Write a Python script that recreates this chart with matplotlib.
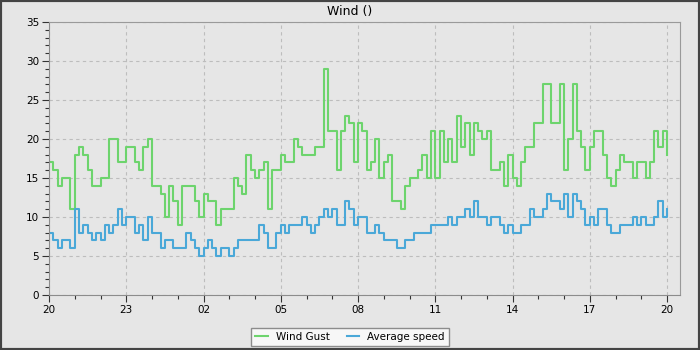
import numpy as np
import matplotlib
matplotlib.use("Agg")
import matplotlib.pyplot as plt
from matplotlib.patches import Rectangle

# ---------------------------------------------- data (4-hour samples) ----------------------------------------------
step_hours = 4
tick_labels = ["20", "23", "02", "05", "08", "11", "14", "17", "20"]

wind_gust = [17, 16, 14, 15, 15, 11, 18, 19, 18, 16, 14, 14, 15, 15, 20, 20, 17, 17, 19, 19,
             17, 16, 19, 20, 14, 14, 13, 10, 14, 12, 9, 14, 14, 14, 12, 10, 13, 12, 12, 9,
             11, 11, 11, 15, 14, 13, 18, 16, 15, 16, 17, 11, 16, 16, 18, 17, 17, 20, 19, 18,
             18, 18, 19, 19, 29, 21, 21, 16, 21, 23, 22, 17, 22, 21, 16, 17, 20, 15, 17, 18,
             12, 12, 11, 14, 15, 15, 16, 18, 15, 21, 15, 21, 17, 20, 17, 23, 19, 22, 18, 22,
             21, 20, 21, 16, 16, 17, 14, 18, 15, 14, 17, 19, 19, 22, 22, 27, 27, 22, 22, 27,
             16, 20, 27, 21, 19, 16, 19, 21, 21, 18, 15, 14, 16, 18, 17, 17, 15, 17, 17, 15,
             17, 21, 19, 21, 18]

average_speed = [8, 7, 6, 7, 7, 6, 11, 8, 9, 8, 7, 8, 7, 9, 8, 9, 11, 9, 10, 10,
                 8, 9, 7, 10, 8, 8, 6, 7, 7, 6, 6, 6, 8, 7, 6, 5, 6, 7, 6, 5,
                 6, 6, 5, 6, 7, 7, 7, 7, 7, 9, 8, 6, 6, 8, 9, 8, 9, 9, 9, 10,
                 9, 8, 9, 10, 11, 10, 11, 9, 9, 12, 11, 9, 10, 10, 8, 8, 9, 8, 7, 7,
                 7, 6, 6, 7, 7, 8, 8, 8, 8, 9, 9, 9, 9, 10, 9, 10, 10, 11, 10, 12,
                 10, 10, 9, 10, 10, 9, 8, 9, 8, 8, 9, 9, 11, 10, 10, 11, 13, 12, 12, 11,
                 13, 10, 13, 12, 11, 9, 10, 9, 11, 11, 9, 8, 8, 9, 9, 9, 10, 9, 10, 9,
                 9, 10, 12, 10, 11]

hours = np.arange(len(wind_gust)) * step_hours

# ---------------------------------------------------- figure ----------------------------------------------------
bg = "#e6e6e6"
fig = plt.figure(figsize=(7, 3.5), dpi=100, facecolor=bg)
ax = fig.add_axes([49 / 700, 55 / 350, 631 / 700, 273 / 350], facecolor=bg)

ax.plot(hours, wind_gust, drawstyle="steps-post", color="#6dd46d", lw=1.5, label="Wind Gust")
ax.plot(hours, average_speed, drawstyle="steps-post", color="#4aa8d8", lw=1.5, label="Average speed")

ax.set_xlim(0, 72 * 631 / 77.25)
ax.set_ylim(0, 35)
ax.set_xticks(np.arange(len(tick_labels)) * 72)
ax.set_xticklabels(tick_labels)
ax.set_xticks(np.arange(0, 8 * 72 + 1, 24), minor=True)
ax.set_yticks(np.arange(0, 36, 5))
ax.set_yticks(np.arange(0, 36, 1), minor=True)
ax.tick_params(which="major", length=5, width=0.8, color="#333333", labelsize=7.5, pad=2)
ax.tick_params(which="minor", length=3, width=0.8, color="#333333")

ax.grid(True, which="major", color="#bdbdbd", linestyle=(0, (3, 3)), linewidth=0.8)
for s in ["left", "bottom"]:
    ax.spines[s].set_color("#8c8c8c")
for s in ["top", "right"]:
    ax.spines[s].set_color("#9a9a9a")

fig.text(0.5, 1 - 11 / 350, "Wind ()", ha="center", va="center", fontsize=9)

leg = fig.legend(loc="center", bbox_to_anchor=(0.5, 1 - 337 / 350), ncol=2, fontsize=7.5,
                 frameon=True, fancybox=False, handlelength=1.2, columnspacing=1.6,
                 borderpad=0.4, handletextpad=0.8)
leg.get_frame().set_facecolor("#f7f7f7")
leg.get_frame().set_edgecolor("#8c8c8c")
leg.get_frame().set_alpha(1)

# dark border round the figure
fig.patches.append(Rectangle((0, 0), 1, 1, transform=fig.transFigure, fill=False,
                             edgecolor="#444444", linewidth=3))

fig.savefig("out.png", dpi=100, facecolor=bg)
